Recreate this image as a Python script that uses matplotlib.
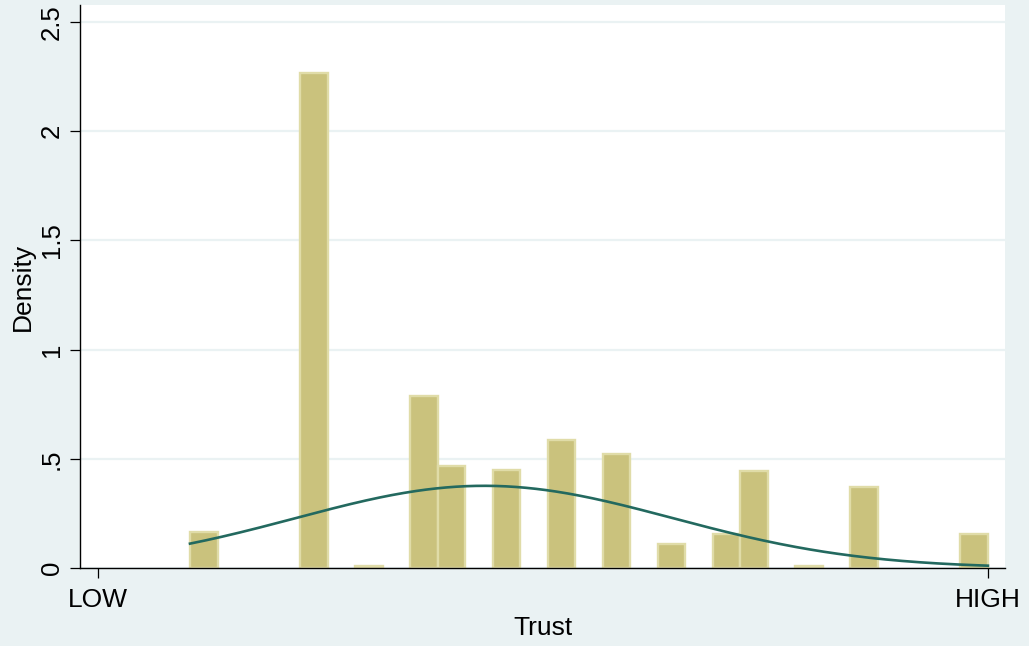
import numpy as np
import matplotlib
matplotlib.use("Agg")
import matplotlib.pyplot as plt

# ---- data ----
bin_start = 0.517          # smallest observed Trust value
bin_width = 0.1546         # histogram bin width
densities = [0.167, 0, 0, 0, 2.268, 0, 0.011, 0, 0.789, 0.465, 0,
             0.449, 0, 0.586, 0, 0.522, 0, 0.110, 0, 0.155, 0.444,
             0, 0.011, 0, 0.370, 0, 0, 0, 0.155]
data_max = 5.0
norm_mean = 2.17
norm_sd = 1.06
x_ticks = [0, 5]
x_tick_labels = ["LOW", "HIGH"]
y_ticks = [0, 0.5, 1, 1.5, 2, 2.5]
y_tick_labels = ["0", ".5", "1", "1.5", "2", "2.5"]

plt.rcParams['font.family'] = ['Liberation Sans', 'DejaVu Sans']

BG = "#EAF2F3"
BAR = "#CAC27D"
BAR_EDGE = "#E0DCA8"
LINE = "#23695F"

fig = plt.figure(figsize=(10.29, 6.46), dpi=100, facecolor=BG)
ax = fig.add_axes([80/1029, 1 - 568/646, (1005-80)/1029, (568-5)/646])
ax.set_facecolor("white")

edges = bin_start + bin_width * np.arange(len(densities))
for left, h in zip(edges, densities):
    if h > 0:
        ax.bar(left, h, width=bin_width, align="edge", color=BAR,
               edgecolor=BAR_EDGE, linewidth=1.7, zorder=2)

xs = np.linspace(bin_start, data_max, 400)
pdf = np.exp(-0.5 * ((xs - norm_mean) / norm_sd) ** 2) / (norm_sd * np.sqrt(2 * np.pi))
ax.plot(xs, pdf, color=LINE, linewidth=1.9, zorder=3)

ax.set_xlim(-0.101, 5.096)
ax.set_ylim(0, 2.578)

for y in y_ticks:
    ax.axhline(y, color=BG, linewidth=1.6, zorder=1)

ax.set_yticks(y_ticks)
ax.set_yticklabels(y_tick_labels, rotation=90, va="center", fontsize=18.5)
ax.set_xticks(x_ticks)
ax.set_xticklabels(x_tick_labels, fontsize=19)
ax.tick_params(axis="both", direction="out", length=7.5, width=0.9, color="black")
ax.tick_params(axis="y", pad=4)
ax.tick_params(axis="x", pad=7)

for side in ["top", "right"]:
    ax.spines[side].set_visible(False)
for side in ["left", "bottom"]:
    ax.spines[side].set_color("black")
    ax.spines[side].set_linewidth(1.0)

ax.set_xlabel("Trust", fontsize=19, labelpad=2.5)
ax.set_ylabel("Density", fontsize=19, labelpad=4)

fig.savefig("out.png", dpi=100, facecolor=BG)
